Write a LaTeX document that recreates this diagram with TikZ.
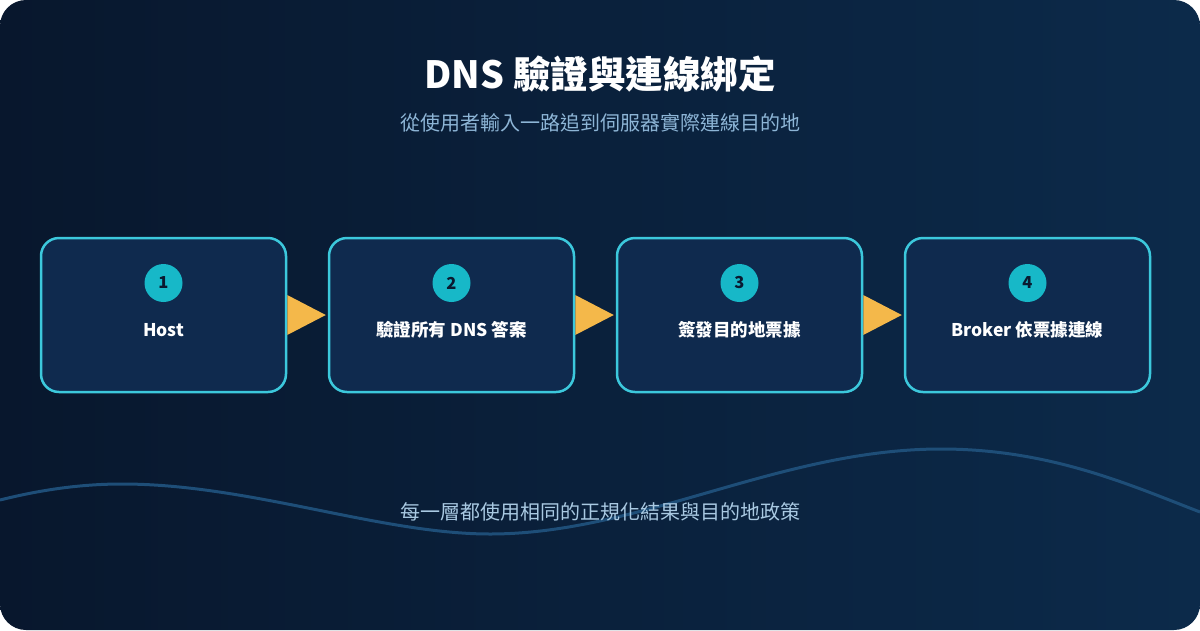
\documentclass[tikz,border=0pt]{standalone}
\usepackage{fontspec}
\usepackage{xcolor}
\setmainfont{Noto Sans CJK TC}

\definecolor{bgleft}{HTML}{08172D}
\definecolor{bgright}{HTML}{0C2A4A}
\definecolor{boxfill}{HTML}{0F2A4E}
\definecolor{boxline}{HTML}{3CC8DC}
\definecolor{dotfill}{HTML}{17B8C8}
\definecolor{dottext}{HTML}{0A1A30}
\definecolor{arrowgold}{HTML}{F4B84A}
\definecolor{subtext}{HTML}{8DB5D6}
\definecolor{foottext}{HTML}{A9C9E2}
\definecolor{wavecol}{HTML}{1E4E78}

\begin{document}
\begin{tikzpicture}[x=1pt,y=-1pt,
  stepbox/.style={draw=boxline, line width=2.5pt, fill=boxfill, rounded corners=18pt,
    minimum width=245pt, minimum height=154pt, inner sep=0pt},
  numdot/.style={circle, fill=dotfill, minimum size=38pt, inner sep=0pt,
    text=dottext, font=\fontsize{16.5}{16.5}\selectfont\bfseries},
  steplabel/.style={text=white, inner sep=0pt, font=\fontsize{17.5}{18}\selectfont\bfseries},
  arrowtip/.style={fill=arrowgold}]
\useasboundingbox (0,0) rectangle (1200,630);
\fill [white] (0,0) rectangle (1200,630);
\shade [left color=bgleft, right color=bgright, rounded corners=26pt] (0,0) rectangle (1200,630);
% wave behind the footer
\draw [wavecol, line width=3pt] (0,500) .. controls (40,490) and (80,484) .. (122,484)
  .. controls (250,484) and (380,534) .. (490,534)
  .. controls (640,534) and (780,449) .. (941,449)
  .. controls (1050,449) and (1130,485) .. (1200,512);
% title
\node [text=white, font=\fontsize{37.5}{37.5}\selectfont\bfseries] (title) at (600,74) {DNS 驗證與連線綁定};
\node [text=subtext, font=\fontsize{20}{20}\selectfont] (subtitle) at (600,123) {從使用者輸入一路追到伺服器實際連線目的地};
% steps
\node [stepbox] (b1) at (163.5,315) {};
\node [numdot] (n1) at (163.5,283) {1};
\node [steplabel] (l1) at (163.5,330) {Host};
\node [stepbox] (b2) at (451.5,315) {};
\node [numdot] (n2) at (451.5,283) {2};
\node [steplabel] (l2) at (451.5,330) {驗證所有 DNS 答案};
\node [stepbox] (b3) at (739.5,315) {};
\node [numdot] (n3) at (739.5,283) {3};
\node [steplabel] (l3) at (739.5,330) {簽發目的地票據};
\node [stepbox] (b4) at (1027.5,315) {};
\node [numdot] (n4) at (1027.5,283) {4};
\node [steplabel] (l4) at (1027.5,330) {Broker 依票據連線};
% arrows
\fill [arrowtip] ([yshift=20pt]b1.east) -- ([xshift=-2pt]b2.west) -- ([yshift=-20pt]b1.east) -- cycle;
\fill [arrowtip] ([yshift=20pt]b2.east) -- ([xshift=-2pt]b3.west) -- ([yshift=-20pt]b2.east) -- cycle;
\fill [arrowtip] ([yshift=20pt]b3.east) -- ([xshift=-2pt]b4.west) -- ([yshift=-20pt]b3.east) -- cycle;
% footer
\node [text=foottext, font=\fontsize{20}{20}\selectfont] (footer) at (600,512) {每一層都使用相同的正規化結果與目的地政策};
\end{tikzpicture}
\end{document}
